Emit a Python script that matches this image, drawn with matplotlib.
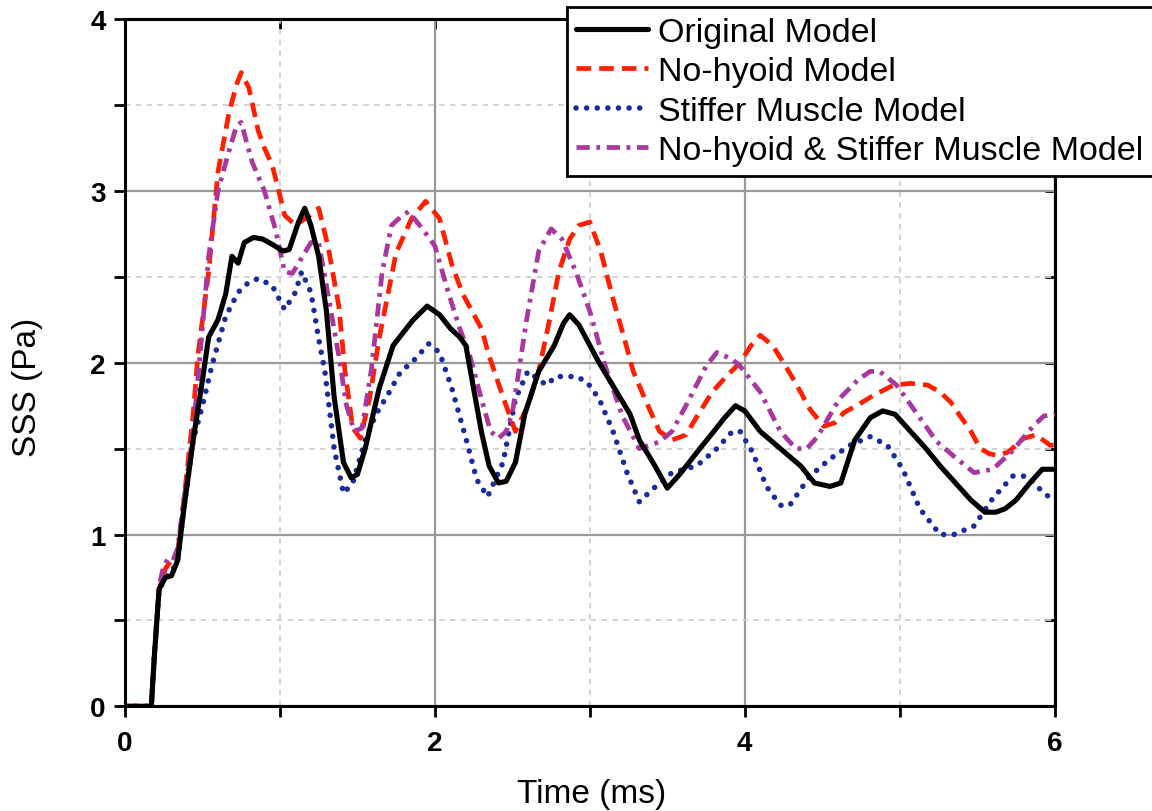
import matplotlib
matplotlib.use("Agg")
import matplotlib.pyplot as plt
from matplotlib.ticker import MultipleLocator

plt.rcParams['font.family'] = ['Liberation Sans', 'DejaVu Sans']

labels = ["Original Model", "No-hyoid Model", "Stiffer Muscle Model",
          "No-hyoid & Stiffer Muscle Model"]

t_orig = [0, 0.17, 0.19, 0.22, 0.26, 0.3, 0.34, 0.38, 0.44, 0.5, 0.54, 0.6, 0.65, 0.69, 0.73, 0.77,
          0.83, 0.89, 0.95, 1.02, 1.06, 1.12, 1.16, 1.2, 1.25, 1.3, 1.35, 1.41, 1.46, 1.5, 1.55, 1.64,
          1.73, 1.86, 1.95, 2.03, 2.1, 2.16, 2.2, 2.25, 2.3, 2.35, 2.41, 2.46, 2.52, 2.58, 2.67, 2.77,
          2.83, 2.87, 2.93, 3.06, 3.16, 3.26, 3.32, 3.42, 3.5, 3.58, 3.71, 3.8, 3.87, 3.94, 4.0, 4.1,
          4.23, 4.36, 4.45, 4.55, 4.62, 4.71, 4.81, 4.89, 4.97, 5.07, 5.17, 5.26, 5.36, 5.46, 5.55,
          5.62, 5.68, 5.75, 5.84, 5.92, 6.0]
sss_orig = [0, 0, 0.3, 0.68, 0.75, 0.76, 0.85, 1.15, 1.55, 1.9, 2.15, 2.25, 2.4, 2.62, 2.58, 2.7,
            2.73, 2.72, 2.69, 2.65, 2.66, 2.82, 2.9, 2.8, 2.62, 2.3, 1.8, 1.42, 1.33, 1.35, 1.5, 1.85,
            2.1, 2.25, 2.33, 2.28, 2.2, 2.15, 2.1, 1.85, 1.6, 1.4, 1.3, 1.31, 1.42, 1.7, 1.95, 2.1,
            2.23, 2.28, 2.22, 2.0, 1.85, 1.7, 1.55, 1.4, 1.27, 1.35, 1.5, 1.6, 1.68, 1.75, 1.72, 1.6,
            1.5, 1.4, 1.3, 1.28, 1.3, 1.55, 1.68, 1.72, 1.7, 1.6, 1.5, 1.4, 1.3, 1.2, 1.13,
            1.13, 1.15, 1.2, 1.3, 1.38, 1.38]

t_nohy = [0, 0.17, 0.19, 0.22, 0.26, 0.3, 0.34, 0.38, 0.44, 0.47, 0.54, 0.6, 0.67, 0.72, 0.75, 0.8,
          0.86, 0.9, 0.95, 0.99, 1.03, 1.1, 1.18, 1.25, 1.31, 1.38, 1.42, 1.47, 1.52, 1.58, 1.64, 1.75,
          1.85, 1.94, 2.03, 2.11, 2.18, 2.24, 2.3, 2.35, 2.44, 2.52, 2.6, 2.67, 2.74, 2.8, 2.87, 2.93,
          3.0, 3.07, 3.15, 3.22, 3.28, 3.36, 3.45, 3.53, 3.62, 3.7, 3.79, 3.88, 3.97, 4.04, 4.1, 4.18,
          4.25, 4.33, 4.42, 4.51, 4.58, 4.64, 4.74, 4.83, 4.96, 5.07, 5.18, 5.26, 5.33, 5.39, 5.46,
          5.52, 5.58, 5.63, 5.7, 5.8, 5.88, 5.97, 6.0]
sss_nohy = [0, 0, 0.3, 0.68, 0.8, 0.85, 0.9, 1.2, 1.7, 2.04, 2.53, 3.11, 3.45, 3.62, 3.69, 3.6,
            3.35, 3.25, 3.15, 3.01, 2.86, 2.8, 2.85, 2.9, 2.68, 2.33, 1.95, 1.62, 1.56, 1.8, 2.14, 2.64,
            2.84, 2.94, 2.84, 2.57, 2.4, 2.3, 2.2, 2.04, 1.8, 1.6, 1.75, 1.95, 2.25, 2.53, 2.72, 2.8,
            2.82, 2.65, 2.37, 2.15, 1.95, 1.78, 1.6, 1.55, 1.58, 1.7, 1.83, 1.92, 2.0, 2.1, 2.16, 2.1,
            2.0, 1.88, 1.73, 1.63, 1.65, 1.71, 1.76, 1.81, 1.87, 1.88, 1.87, 1.83, 1.77, 1.69, 1.6,
            1.5, 1.47, 1.46, 1.48, 1.56, 1.58, 1.52, 1.52]

t_stiff = [0, 0.17, 0.19, 0.22, 0.26, 0.3, 0.34, 0.38, 0.44, 0.5, 0.56, 0.65, 0.73, 0.8, 0.86, 0.95,
           1.03, 1.1, 1.14, 1.2, 1.25, 1.29, 1.35, 1.41, 1.47, 1.55, 1.62, 1.7, 1.78, 1.85, 1.96, 2.03,
           2.11, 2.2, 2.27, 2.34, 2.44, 2.52, 2.6, 2.72, 2.78, 2.91, 2.98, 3.06, 3.15, 3.24, 3.32, 3.4,
           3.53, 3.69, 3.82, 3.92, 3.97, 4.05, 4.14, 4.23, 4.29, 4.42, 4.55, 4.68, 4.81, 4.92, 5.02,
           5.13, 5.26, 5.35, 5.48, 5.6, 5.73, 5.82, 5.91, 6.0]
sss_stiff = [0, 0, 0.3, 0.68, 0.75, 0.78, 0.85, 1.15, 1.55, 1.75, 1.98, 2.27, 2.41, 2.47, 2.49, 2.45,
             2.31, 2.41, 2.53, 2.41, 2.14, 1.95, 1.5, 1.24, 1.3, 1.55, 1.7, 1.82, 1.95, 2.0, 2.11, 2.06,
             1.85, 1.56, 1.32, 1.22, 1.42, 1.79, 1.95, 1.87, 1.92, 1.92, 1.89, 1.79, 1.6, 1.36, 1.19, 1.26,
             1.36, 1.4, 1.5, 1.6, 1.6, 1.48, 1.28, 1.17, 1.17, 1.34, 1.44, 1.52, 1.57, 1.52, 1.38,
             1.15, 1.0, 1.0, 1.05, 1.21, 1.34, 1.34, 1.26, 1.19]

t_both = [0, 0.17, 0.19, 0.22, 0.25, 0.28, 0.31, 0.34, 0.38, 0.44, 0.48, 0.54, 0.6, 0.67, 0.72, 0.75,
          0.82, 0.9, 0.97, 1.03, 1.08, 1.12, 1.2, 1.25, 1.3, 1.38, 1.43, 1.48, 1.53, 1.59, 1.66, 1.72,
          1.78, 1.83, 1.92, 2.0, 2.09, 2.16, 2.22, 2.3, 2.36, 2.41, 2.46, 2.5, 2.55, 2.59, 2.67, 2.75,
          2.82, 2.91, 3.0, 3.1, 3.21, 3.32, 3.45, 3.53, 3.62, 3.75, 3.82, 3.92, 3.97, 4.1, 4.23, 4.33,
          4.4, 4.47, 4.61, 4.73, 4.81, 4.87, 4.98, 5.09, 5.24, 5.37, 5.48, 5.6, 5.72, 5.86, 5.93, 6.0]
sss_both = [0, 0, 0.3, 0.7, 0.82, 0.86, 0.85, 0.92, 1.2, 1.6, 2.0, 2.62, 3.0, 3.23, 3.38, 3.4,
            3.17, 3.0, 2.78, 2.53, 2.52, 2.58, 2.7, 2.7, 2.45, 2.04, 1.75, 1.6, 1.62, 1.96, 2.53, 2.8,
            2.85, 2.88, 2.78, 2.68, 2.4, 2.2, 2.06, 1.79, 1.6, 1.56, 1.6, 1.71, 2.0, 2.24, 2.65, 2.78,
            2.72, 2.53, 2.3, 1.98, 1.69, 1.5, 1.54, 1.6, 1.75, 1.98, 2.06, 2.02, 1.98, 1.83, 1.6, 1.5,
            1.5, 1.57, 1.79, 1.9, 1.95, 1.95, 1.87, 1.73, 1.54, 1.44, 1.36, 1.38, 1.48, 1.63, 1.69, 1.7]

fig = plt.figure(figsize=(11.52, 8.12), dpi=100)
ax = fig.add_axes([0.1085, 0.129, 0.807, 0.846])

lw = 3.4
ax.plot(t_orig, sss_orig, color='black', lw=lw + 0.3, solid_joinstyle='round',
        solid_capstyle='round', label=labels[0], zorder=5)
ax.plot(t_nohy, sss_nohy, color='#ff1e00', lw=lw, linestyle=(0, (3.1, 1.7)), label=labels[1], zorder=4)
ax.plot(t_stiff, sss_stiff, color='#1a2c9c', lw=lw + 0.6, linestyle=(0, (0.01, 1.9)),
        dash_capstyle='round', label=labels[2], zorder=3)
ax.plot(t_both, sss_both, color='#a8389f', lw=lw, linestyle=(0, (2.8, 1.4, 0.8, 1.4)),
        label=labels[3], zorder=4)

ax.set_xlim(0, 6)
ax.set_ylim(0, 4)
ax.xaxis.set_major_locator(MultipleLocator(2))
ax.xaxis.set_minor_locator(MultipleLocator(1))
ax.yaxis.set_major_locator(MultipleLocator(1))
ax.yaxis.set_minor_locator(MultipleLocator(0.5))

ax.grid(which='major', color='#999999', lw=1.6, linestyle='-')
ax.grid(which='minor', color='#cfcfcf', lw=1.3, linestyle=(0, (3, 3)))
ax.set_axisbelow(True)

for s in ax.spines.values():
    s.set_linewidth(2.2)

ax.tick_params(which='both', direction='out', length=8, width=2, top=False, right=False,
               labelsize=20, pad=9)
ax.tick_params(axis='y', pad=6)
for lab in ax.get_xticklabels() + ax.get_yticklabels():
    lab.set_fontweight('bold')

sec_x = ax.secondary_xaxis('top')
sec_x.xaxis.set_major_locator(MultipleLocator(2))
sec_x.xaxis.set_minor_locator(MultipleLocator(1))
sec_x.tick_params(which='both', direction='in', length=7, width=2, labeltop=False)
sec_x.spines['top'].set_linewidth(2.2)
sec_y = ax.secondary_yaxis('right')
sec_y.yaxis.set_major_locator(MultipleLocator(1))
sec_y.yaxis.set_minor_locator(MultipleLocator(0.5))
sec_y.tick_params(which='both', direction='in', length=7, width=2, labelright=False)
sec_y.spines['right'].set_linewidth(2.2)

ax.set_xlabel("Time (ms)", fontsize=24)
ax.set_ylabel("SSS (Pa)", fontsize=24)
ax.xaxis.set_label_coords(0.502, -0.104)
ax.yaxis.set_label_coords(-0.088, 0.466)

leg = fig.legend(loc='upper left', bbox_to_anchor=(0.492, 0.990), fontsize=24.5,
                 frameon=True, fancybox=False, edgecolor='black', framealpha=1,
                 handlelength=2.1, handletextpad=0.3, labelspacing=0.25, borderpad=0.28,
                 borderaxespad=0)
leg.get_frame().set_linewidth(2)

fig.savefig("out.png", dpi=100)
